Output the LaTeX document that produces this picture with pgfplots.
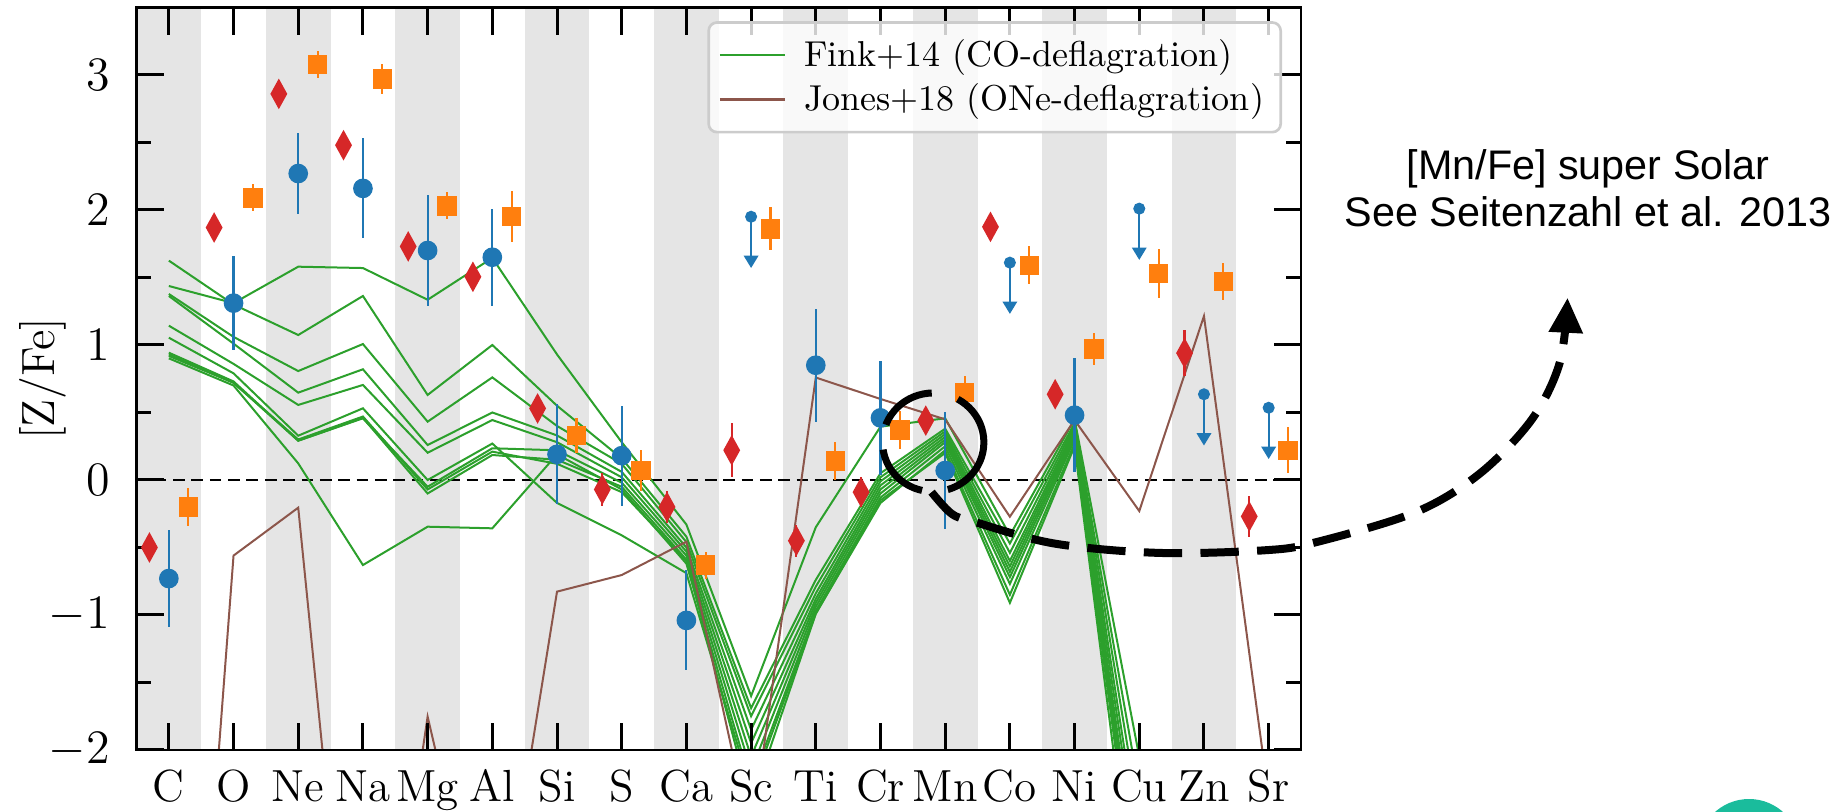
\documentclass[border=0pt]{standalone}
\usepackage{pgfplots}
\pgfplotsset{compat=1.18}
\usepackage{pgfplotstable}
\usepackage{fontspec}
\newfontfamily\annfont{Liberation Sans}
\usetikzlibrary{arrows.meta}

\definecolor{tabblue}{HTML}{1F77B4}
\definecolor{taborange}{HTML}{FF7F0E}
\definecolor{tabred}{HTML}{D62728}
\definecolor{tabgreen}{HTML}{2CA02C}
\definecolor{tabbrown}{HTML}{8C564B}
\definecolor{band}{RGB}{229,229,229}
\definecolor{tealc}{RGB}{26,188,156}

\pgfdeclareplotmark{thindiamond}{%
  \pgfpathmoveto{\pgfqpoint{0pt}{\pgfplotmarksize}}%
  \pgfpathlineto{\pgfqpoint{0.55\pgfplotmarksize}{0pt}}%
  \pgfpathlineto{\pgfqpoint{0pt}{-\pgfplotmarksize}}%
  \pgfpathlineto{\pgfqpoint{-0.55\pgfplotmarksize}{0pt}}%
  \pgfpathclose
  \pgfusepathqfill
}

\pgfplotstableread{
x y e
0 -0.73 0.36
1 1.31 0.35
2 2.27 0.30
3 2.16 0.37
4 1.70 0.41
5 1.65 0.36
6 0.19 0.37
7 0.18 0.37
8 -1.04 0.37
10 0.85 0.42
11 0.46 0.42
12 0.07 0.43
14 0.48 0.42
}\bluetab

\pgfplotstableread{
x y
9 1.95
13 1.61
15 2.01
16 0.635
17 0.535
}\bluelim

\pgfplotstableread{
x y e
-0.3 -0.50 0.08
0.7 1.87 0.08
1.7 2.86 0.08
2.7 2.48 0.08
3.7 1.73 0.08
4.7 1.505 0.08
5.7 0.53 0.08
6.7 -0.07 0.12
7.7 -0.20 0.12
8.7 0.22 0.20
9.7 -0.45 0.12
10.7 -0.09 0.11
11.7 0.44 0.08
12.7 1.875 0.08
13.7 0.635 0.08
15.7 0.94 0.17
16.7 -0.27 0.155
}\redtab

\pgfplotstableread{
x y e
0.3 -0.20 0.14
1.3 2.09 0.10
2.3 3.08 0.10
3.3 2.97 0.11
4.3 2.03 0.10
5.3 1.95 0.19
6.3 0.33 0.13
7.3 0.07 0.15
8.3 -0.63 0.10
9.3 1.86 0.16
10.3 0.14 0.14
11.3 0.37 0.14
12.3 0.65 0.12
13.3 1.59 0.14
14.3 0.97 0.12
15.3 1.53 0.18
16.3 1.47 0.135
17.3 0.22 0.17
}\orangetab

\pgfplotstableread{
x g1 g2 g3 g4 g5 g6 g7 g8 g9 g10 jones
0 1.437 1.625 1.378 1.363 1.143 1.054 0.943 0.919 0.901 0.93 -6.9
1 1.31 1.30 1.06 1.01 0.86 0.79 0.73 0.72 0.70 0.72 -0.56
2 1.58 1.074 0.807 0.647 0.556 0.328 0.291 0.291 0.123 0.30 -0.205
3 1.57 1.363 1.007 0.82 0.704 0.531 0.457 0.46 -0.63 0.47 -5.0
4 1.335 0.63 0.432 0.259 0.202 0.00 -0.05 -0.10 -0.346 -0.07 -1.753
5 1.645 1.00 0.76 0.50 0.444 0.27 0.235 0.185 -0.358 0.21 -3.8
6 0.93 0.55 0.40 0.33 0.28 -0.17 0.22 0.15 0.19 0.12 -0.827
7 0.28 0.16 0.12 0.06 0.02 -0.41 -0.02 -0.05 -0.07 -0.09 -0.704
8 -0.33 -0.42 -0.46 -0.50 -0.53 -0.69 -0.56 -0.59 -0.62 -0.60 -0.457
9 -1.60 -1.69 -1.75 -1.85 -1.95 -2.30 -2.05 -2.15 -2.25 -2.40 -2.65
10 -0.35 -0.74 -0.79 -0.84 -0.88 -0.99 -0.91 -0.94 -0.97 -0.99 0.759
11 0.395 0.05 0.02 -0.01 -0.04 -0.17 -0.07 -0.10 -0.13 -0.15 0.60
12 0.457 0.38 0.36 0.34 0.32 0.22 0.30 0.28 0.25 0.20 0.449
13 -0.41 -0.47 -0.54 -0.60 -0.64 -0.85 -0.68 -0.72 -0.77 -0.91 -0.272
14 0.45 0.42 0.40 0.38 0.36 0.27 0.34 0.32 0.30 0.25 0.444
15 -2.05 -2.3 -2.5 -2.7 -2.85 -3.3 -3.0 -3.1 -3.2 -3.5 -0.23
16 -3.0 -3.2 -3.4 -3.5 -3.6 -4.0 -3.7 -3.8 -3.9 -4.1 1.214
17 -5.0 -5.0 -5.2 -5.3 -5.4 -5.6 -5.5 -5.5 -5.6 -5.7 -2.35
}\models

\begin{document}
\begin{tikzpicture}
\useasboundingbox (-40.95pt,-18.3pt) rectangle (509.55pt,225pt);
\begin{axis}[
  scale only axis, width=349.35pt, height=222.75pt,
  xmin=-0.5, xmax=17.5, ymin=-2, ymax=3.5,
  xtick={0,...,17},
  xticklabels={C,O,Ne,Na,Mg,Al,Si,S,Ca,Sc,Ti,Cr,Mn,Co,Ni,Cu,Zn,Sr},
  ytick={-2,-1,0,1,2,3},
  minor ytick={-1.5,-0.5,0.5,1.5,2.5},
  tick align=inside, tick pos=both, ticklabel pos=left,
  major tick length=8.2pt, minor tick length=4.5pt,
  every tick/.style={black, line width=0.9pt},
  axis line style={line width=0.8pt},
  axis on top,
  xticklabel style={font=\fontsize{13.5}{15}\selectfont, anchor=base, yshift=-15.6pt},
  yticklabel style={font=\fontsize{13.5}{15}\selectfont, xshift=-4.5pt},
  ylabel={[Z/Fe]},
  ylabel style={at={(axis description cs:-0.0708,0.5)}, anchor=base, font=\fontsize{14}{16}\selectfont},
  legend style={at={(1,1)}, anchor=north east, xshift=-5.7pt, yshift=-4.1pt,
    draw=black!20, line width=0.8pt, rounded corners=2.5pt, fill=white, fill opacity=0.8,
    draw opacity=1, text opacity=1, font=\fontsize{10.8}{13}\selectfont,
    inner xsep=3pt, inner ysep=3pt, row sep=-0.3pt},
  legend cell align=left,
  legend image code/.code={\draw[#1, line width=0.7pt] (0pt,0pt) -- (19.5pt,0pt); \path (23pt,0pt);},
]
% alternating background bands
\fill[band] (axis cs:-0.5,-2) rectangle (axis cs:0.5,3.5);
\fill[band] (axis cs:1.5,-2) rectangle (axis cs:2.5,3.5);
\fill[band] (axis cs:3.5,-2) rectangle (axis cs:4.5,3.5);
\fill[band] (axis cs:5.5,-2) rectangle (axis cs:6.5,3.5);
\fill[band] (axis cs:7.5,-2) rectangle (axis cs:8.5,3.5);
\fill[band] (axis cs:9.5,-2) rectangle (axis cs:10.5,3.5);
\fill[band] (axis cs:11.5,-2) rectangle (axis cs:12.5,3.5);
\fill[band] (axis cs:13.5,-2) rectangle (axis cs:14.5,3.5);
\fill[band] (axis cs:15.5,-2) rectangle (axis cs:16.5,3.5);

\addplot[black, line width=0.6pt, dash pattern=on 3.5pt off 2pt, forget plot] coordinates {(-0.5,0) (17.5,0)};

% Fink+14 models
\addplot[tabgreen, line width=0.6pt] table[x=x,y=g1] {\models};
\addlegendentry{Fink+14 (CO-deflagration)}
\addplot[tabgreen, line width=0.6pt, forget plot] table[x=x,y=g2] {\models};
\addplot[tabgreen, line width=0.6pt, forget plot] table[x=x,y=g3] {\models};
\addplot[tabgreen, line width=0.6pt, forget plot] table[x=x,y=g4] {\models};
\addplot[tabgreen, line width=0.6pt, forget plot] table[x=x,y=g5] {\models};
\addplot[tabgreen, line width=0.6pt, forget plot] table[x=x,y=g6] {\models};
\addplot[tabgreen, line width=0.6pt, forget plot] table[x=x,y=g7] {\models};
\addplot[tabgreen, line width=0.6pt, forget plot] table[x=x,y=g8] {\models};
\addplot[tabgreen, line width=0.6pt, forget plot] table[x=x,y=g9] {\models};
\addplot[tabgreen, line width=0.6pt, forget plot] table[x=x,y=g10] {\models};
% Jones+18
\addplot[tabbrown, line width=0.6pt] table[x=x,y=jones] {\models};
\addlegendentry{Jones+18 (ONe-deflagration)}

% data
\addplot[only marks, tabred, mark=thindiamond, mark size=4.6pt, forget plot,
  error bars/.cd, y dir=both, y explicit, error mark=none,
  error bar style={line width=0.65pt, tabred}]
  table[x=x,y=y,y error=e] {\redtab};
\addplot[only marks, tabblue, mark=*, mark size=2.75pt, forget plot,
  error bars/.cd, y dir=both, y explicit, error mark=none,
  error bar style={line width=0.65pt, tabblue}]
  table[x=x,y=y,y error=e] {\bluetab};
\addplot[only marks, tabblue, mark=*, mark size=1.6pt, forget plot] table[x=x,y=y] {\bluelim};
\addplot[tabblue, line width=0.65pt, forget plot, -{Triangle[width=4.3pt,length=3.7pt]},
  quiver={u=0, v=-0.38}] table[x=x,y=y] {\bluelim};
\addplot[only marks, taborange, mark=square*, mark size=2.7pt, forget plot,
  error bars/.cd, y dir=both, y explicit, error mark=none,
  error bar style={line width=0.65pt, taborange}]
  table[x=x,y=y,y error=e] {\orangetab};

% annotation anchors
\coordinate (ellc) at (axis cs:11.815,0.279);
\coordinate (a1) at (axis cs:11.79,-0.09);
\coordinate (a2) at (axis cs:12.1,-0.25);
\coordinate (a3) at (axis cs:12.45,-0.31);
\coordinate (a4) at (axis cs:13.68,-0.47);
\coordinate (a5) at (axis cs:15.3,-0.54);
\coordinate (a6) at (axis cs:16.96,-0.52);
\coordinate (a7) at (axis cs:17.74,-0.46);
\coordinate (a8) at (axis cs:19.28,-0.237);
\coordinate (a9) at (axis cs:20.27,0.05);
\coordinate (a10) at (axis cs:21.07,0.45);
\coordinate (a11) at (axis cs:21.5,0.87);
\coordinate (a12) at (axis cs:21.62,1.35);
\end{axis}

\draw[black, line width=2.1pt,
  dash pattern=on 15.9pt off 8.1pt on 17.7pt off 7.6pt on 18pt off 7.8pt on 20pt off 0pt]
  (ellc) ellipse [x radius=15.2pt, y radius=14.8pt];
\draw[black, line width=2.4pt, dash pattern=on 11.5pt off 5.5pt,
  -{Triangle[width=9.7pt,length=10.5pt]}]
  plot[smooth, tension=0.55] coordinates {(a1) (a2) (a3) (a4) (a5) (a6) (a7) (a8) (a9) (a10) (a11) (a12)};

\node[anchor=base, font=\annfont\fontsize{12.4}{14}\selectfont] at (435.5pt,171pt) {[Mn/Fe] super Solar};
\node[anchor=base, font=\annfont\fontsize{12.4}{14}\selectfont] at (435.5pt,157pt) {See Seitenzahl et al. 2013};

\fill[tealc] (483.75pt,-30pt) circle (15.3pt);
\end{tikzpicture}
\end{document}
